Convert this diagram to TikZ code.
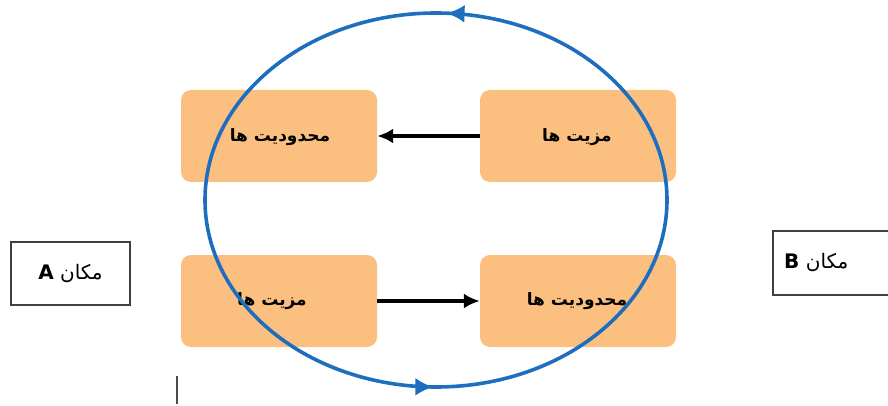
\documentclass[tikz,border=0pt]{standalone}
\usepackage{fontspec}
\newfontfamily\arabicfont[Script=Arabic]{DejaVu Sans}
\TeXXeTstate=1
\usetikzlibrary{arrows.meta,decorations.markings}
\definecolor{boxorange}{HTML}{FBC07F}
\definecolor{cycleblue}{HTML}{1E6EC0}
\tikzset{
  orangebox/.style={fill=boxorange, rounded corners=10pt, draw=none},
  placebox/.style={draw=black!75, line width=2pt, fill=white},
  flowarrow/.style={line width=3.4pt, -{Latex[length=16pt,width=15pt]}},
  boxtext/.style={font=\arabicfont\bfseries\fontsize{17}{20}\selectfont},
  placetext/.style={font=\arabicfont\fontsize{20}{24}\selectfont},
}
\begin{document}
\begin{tikzpicture}[x=1pt,y=-1pt]
\useasboundingbox (0,0) rectangle (888,406);
% orange boxes
\node[orangebox, minimum width=196pt, minimum height=92pt] (tl) at (279,136) {};
\node[orangebox, minimum width=196pt, minimum height=92pt] (tr) at (578,136) {};
\node[orangebox, minimum width=196pt, minimum height=92pt] (bl) at (279,301) {};
\node[orangebox, minimum width=196pt, minimum height=92pt] (br) at (578,301) {};
\node[boxtext] at (280,137) {\beginR محدودیت ها\endR};
\node[boxtext] at (577,137) {\beginR مزیت ها\endR};
\node[boxtext] at (272,301) {\beginR مزیت ها\endR};
\node[boxtext] at (577,301) {\beginR محدودیت ها\endR};
% arrows between boxes
\draw[flowarrow] (tr.west) -- (tl.east);
\draw[flowarrow] (bl.east) -- (br.west);
% cycle ellipse
\draw[cycleblue, line width=3.6pt,
  decoration={markings,
    mark=at position 0.252 with {\arrowreversed{Latex[length=18pt,width=18pt]}},
    mark=at position 0.758 with {\arrowreversed{Latex[length=18pt,width=18pt]}}},
  postaction={decorate}]
  (436,200) ellipse [x radius=231, y radius=187];
% place boxes
\node[placebox, minimum width=119pt, minimum height=63pt, placetext] (A) at (70.5,273.5) {\beginR مکان \beginL\textbf{A}\endL\endR};
\node[placebox, minimum width=124pt, minimum height=64pt, anchor=west, placetext, inner sep=0pt, text width=118pt, align=left] (B) at (772,263) {\hspace*{8pt}\beginR مکان \beginL\textbf{B}\endL\endR};
% small vertical tick
\coordinate (t1) at (177,376);
\coordinate (t2) at (177,404);
\draw[black!70, line width=1.8pt] (t1) -- (t2);
\end{tikzpicture}
\end{document}
